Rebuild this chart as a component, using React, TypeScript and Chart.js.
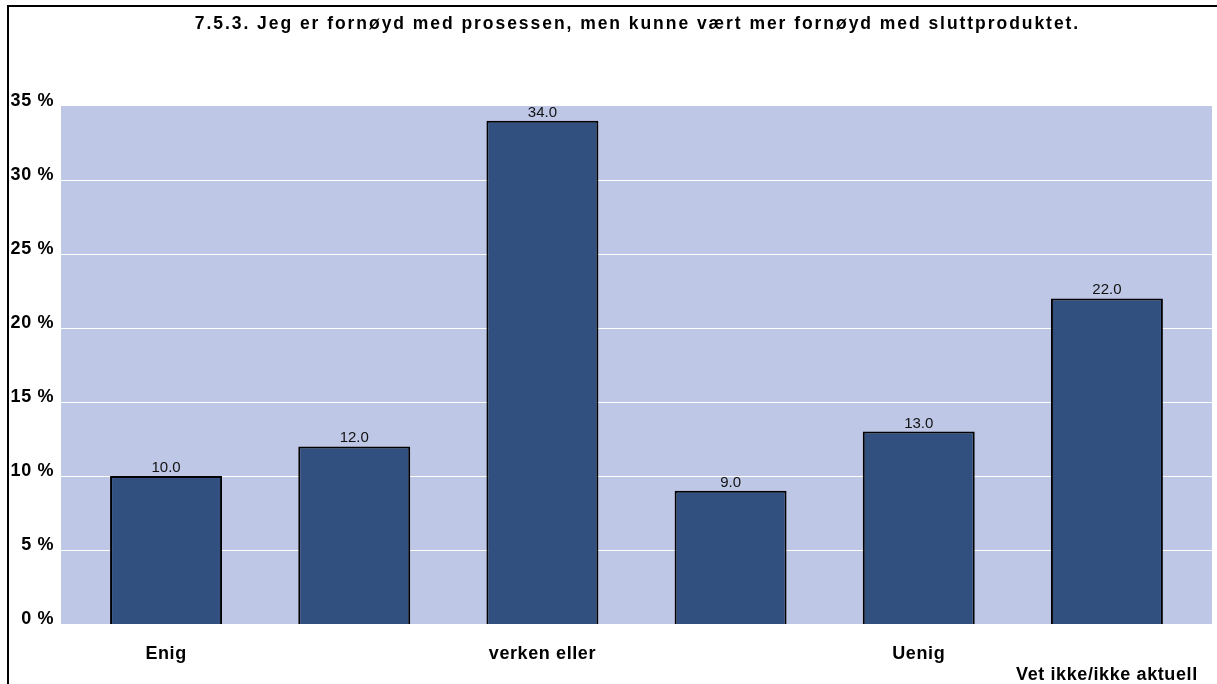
import React, { useEffect, useRef } from 'react';
import { Chart, registerables } from 'chart.js';

Chart.register(...registerables);

const TITLE = '7.5.3. Jeg er fornøyd med prosessen, men kunne vært mer fornøyd med sluttproduktet.';
const categories: (string | string[])[] = ['Enig', '', 'verken eller', '', 'Uenig', ['', 'Vet ikke/ikke aktuell']];
const values = [10, 12, 34, 9, 13, 22];
const yMax = 35;
const yStep = 5;

const FONT = "'Liberation Sans', Arial, sans-serif";
const PLOT_BG = '#bec7e6';
const BAR_COLOR = '#31507f';

const decorPlugin = {
  id: 'decor',
  beforeDraw(chart: any) {
    const { ctx, chartArea } = chart;
    const y = chart.scales.y;
    ctx.save();
    ctx.fillStyle = PLOT_BG;
    const l = chartArea.left - 11;
    const r = chartArea.right + 11;
    ctx.fillRect(l, chartArea.top, r - l, chartArea.bottom - chartArea.top);
    ctx.strokeStyle = '#ffffff';
    ctx.lineWidth = 1.2;
    y.ticks.forEach((t: any) => {
      if (t.value === 0 || t.value === yMax) return;
      const py = Math.round(y.getPixelForValue(t.value)) + 0.5;
      ctx.beginPath();
      ctx.moveTo(l, py);
      ctx.lineTo(r, py);
      ctx.stroke();
    });
    ctx.restore();
    ctx.letterSpacing = '0.6px';
  },
  afterDatasetsDraw(chart: any) {
    const { ctx, chartArea } = chart;
    const meta = chart.getDatasetMeta(0);
    ctx.save();
    ctx.letterSpacing = '0px';
    ctx.font = `15px ${FONT}`;
    ctx.fillStyle = '#111';
    ctx.textAlign = 'center';
    ctx.textBaseline = 'alphabetic';
    meta.data.forEach((bar: any, i: number) => {
      ctx.fillText(values[i].toFixed(1), bar.x, bar.y - 4);
    });
    ctx.font = `bold 17.5px ${FONT}`;
    ctx.fillStyle = '#000';
    ctx.letterSpacing = '1.95px';
    ctx.textBaseline = 'alphabetic';
    ctx.fillText(TITLE, (chartArea.left + chartArea.right) / 2 + 1, 28.5);
    ctx.restore();
  },
};

export default function App() {
  const ref = useRef<HTMLCanvasElement>(null);
  useEffect(() => {
    const prev = document.body.style.margin;
    document.body.style.margin = '0';
    const chart = new Chart(ref.current!, {
      type: 'bar',
      data: {
        labels: categories,
        datasets: [
          {
            data: values,
            backgroundColor: BAR_COLOR,
            borderColor: '#000',
            borderWidth: 2,
            barPercentage: 0.595,
            categoryPercentage: 1,
          },
        ],
      },
      options: {
        animation: false,
        responsive: false,
        maintainAspectRatio: false,
        layout: { padding: { left: 0, right: 16, top: 106, bottom: 0 } },
        plugins: {
          legend: { display: false },
          title: { display: false },
          tooltip: { enabled: false },
        },
        scales: {
          x: {
            grid: { display: false, drawTicks: false },
            border: { display: false },
            ticks: {
              color: '#000',
              padding: 19,
              autoSkip: false,
              maxRotation: 0,
              font: { family: FONT, size: 18, weight: 'bold', lineHeight: 1.2 },
            },
            afterFit(scale: any) {
              scale.height = 60;
            },
          },
          y: {
            min: 0,
            max: yMax,
            grid: { display: false, drawTicks: false },
            border: { display: false },
            ticks: {
              stepSize: yStep,
              color: '#000',
              padding: 18,
              labelOffset: -5,
              font: { family: FONT, size: 18, weight: 'bold' },
              callback: (v: any) => `${v} %`,
            },
            afterFit(scale: any) {
              scale.width = 72;
            },
          },
        },
      },
      plugins: [decorPlugin],
    });
    return () => {
      chart.destroy();
      document.body.style.margin = prev;
    };
  }, []);
  return (
    <div style={{ position: 'fixed', left: 0, top: 0, width: 1217, height: 684, overflow: 'hidden', background: '#fff' }}>
      <div
        style={{
          position: 'absolute',
          left: 7,
          top: 5,
          width: 1400,
          height: 900,
          borderLeft: '2px solid #000',
          borderTop: '2px solid #000',
        }}
      />
      <canvas ref={ref} width={1217} height={684} style={{ position: 'absolute', left: 0, top: 0, display: 'block' }} />
    </div>
  );
}
